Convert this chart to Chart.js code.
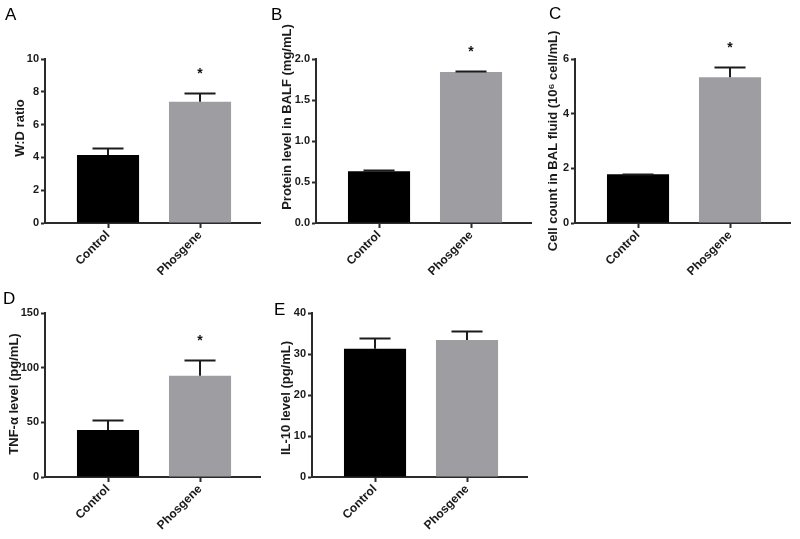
<!DOCTYPE html>
<html>
<head>
<meta charset="utf-8">
<script src="https://cdn.jsdelivr.net/npm/chart.js@4.4.1/dist/chart.umd.min.js"></script>
<style>
  body { margin: 0; background: #fff; width: 800px; height: 539px; position: relative; overflow: hidden; }
  canvas { position: absolute; }
</style>
</head>
<body>
<canvas id="chart-a"></canvas>
<canvas id="chart-b"></canvas>
<canvas id="chart-c"></canvas>
<canvas id="chart-d"></canvas>
<canvas id="chart-e"></canvas>
<script>
const groups = ['Control', 'Phosgene'];
const barColors = ['#000000', '#9e9ea2'];

const wdRatio = [4.15, 7.4];
const wdErr = [0.4, 0.55];
const wdTicks = ['0', '2', '4', '6', '8', '10'];

const protein = [0.63, 1.84];
const proteinErr = [0.012, 0.013];
const proteinTicks = ['0.0', '0.5', '1.0', '1.5', '2.0'];

const cellCount = [1.78, 5.33];
const cellErr = [0.01, 0.37];
const cellTicks = ['0', '2', '4', '6'];

const tnf = [43, 92.6];
const tnfErr = [9.2, 14.4];
const tnfTicks = ['0', '50', '100', '150'];

const il10 = [31.3, 33.4];
const il10Err = [2.5, 2.1];
const il10Ticks = ['0', '10', '20', '30', '40'];

const starred = ['', '*'];
const notStarred = ['', ''];

const FONT = "'Liberation Sans', Arial, sans-serif";
const AXIS = '#2b2b2b';

// error bars, asterisks, y-axis title and panel letter
const panelDecor = {
  id: 'panelDecor',
  afterDatasetsDraw(chart, args, opts) {
    const ctx = chart.ctx;
    const y = chart.scales.y;
    const ds = chart.data.datasets[0];
    const meta = chart.getDatasetMeta(0);
    ctx.save();
    ctx.strokeStyle = '#1c1c1c';
    ctx.lineWidth = 2;
    meta.data.forEach((bar, i) => {
      const top = Math.round(y.getPixelForValue(ds.data[i].y + ds.errors[i])) + 0.5;
      const half = bar.width / 4;
      ctx.beginPath();
      ctx.moveTo(bar.x, bar.y);
      ctx.lineTo(bar.x, top);
      ctx.moveTo(bar.x - half, top);
      ctx.lineTo(bar.x + half, top);
      ctx.stroke();
      if (ds.marks[i]) {
        ctx.fillStyle = '#111';
        ctx.font = 'bold 14px ' + FONT;
        ctx.textAlign = 'center';
        ctx.textBaseline = 'alphabetic';
        ctx.fillText(ds.marks[i], bar.x, top - 16);
      }
    });
    ctx.fillStyle = '#1a1a1a';
    ctx.font = 'bold 13px ' + FONT;
    ctx.textAlign = 'center';
    ctx.textBaseline = 'middle';
    ctx.translate(opts.titleX, opts.titleY);
    ctx.rotate(-Math.PI / 2);
    ctx.fillText(opts.title, 0, 0);
    ctx.setTransform(1, 0, 0, 1, 0, 0);
    ctx.font = '17px ' + FONT;
    ctx.textAlign = 'left';
    ctx.textBaseline = 'alphabetic';
    ctx.fillStyle = '#000';
    ctx.fillText(opts.letter, opts.letterX, opts.letterY);
    ctx.restore();
  }
};

function makePanel(id, box, area, letter, title, values, errors, marks, tickLabels) {
  const canvas = document.getElementById(id);
  canvas.width = box.w;
  canvas.height = box.h;
  canvas.style.left = box.x + 'px';
  canvas.style.top = box.y + 'px';
  const yMax = parseFloat(tickLabels[tickLabels.length - 1]);
  return new Chart(canvas, {
    type: 'bar',
    data: {
      datasets: [{
        data: values.map((v, i) => ({ x: i + 1, y: v })),
        errors: errors,
        marks: marks,
        backgroundColor: barColors,
        borderWidth: 0,
        categoryPercentage: 1,
        barPercentage: 0.675
      }]
    },
    options: {
      responsive: false,
      animation: false,
      devicePixelRatio: 1,
      layout: {
        padding: { left: 0, top: area.top - box.y, right: box.x + box.w - area.right, bottom: 0 }
      },
      scales: {
        x: {
          type: 'linear',
          offset: false,
          min: 0.315,
          max: 2.652,
          afterBuildTicks: s => { s.ticks = groups.map((g, i) => ({ value: i + 1 })); },
          afterFit: s => { s.height = box.y + box.h - area.bottom; },
          grid: { offset: false, drawOnChartArea: false, drawTicks: true, tickLength: 5, tickColor: AXIS, tickWidth: 2 },
          border: { display: true, color: AXIS, width: 2 },
          ticks: {
            minRotation: 45,
            maxRotation: 45,
            padding: 0,
            color: '#1a1a1a',
            font: { family: FONT, size: 12, weight: 'bold' },
            callback: v => groups[v - 1]
          }
        },
        y: {
          min: 0,
          max: yMax,
          afterBuildTicks: s => { s.ticks = tickLabels.map(t => ({ value: parseFloat(t) })); },
          afterFit: s => { s.width = area.left - box.x; },
          grid: { drawOnChartArea: false, drawTicks: true, tickLength: 4, tickColor: AXIS, tickWidth: 2 },
          border: { display: true, color: AXIS, width: 2 },
          ticks: {
            padding: 2,
            color: '#1a1a1a',
            font: { family: FONT, size: 11, weight: 'bold' },
            callback: (v, i) => tickLabels[i]
          }
        }
      },
      plugins: {
        legend: { display: false },
        tooltip: { enabled: false },
        panelDecor: {
          letter: letter,
          letterX: area.letterX - box.x,
          letterY: area.letterY - box.y,
          title: title,
          titleX: area.titleX - box.x,
          titleY: area.titleY - box.y
        }
      }
    },
    plugins: [panelDecor]
  });
}

makePanel('chart-a', { x: 0, y: 0, w: 265, h: 275 },
  { left: 45, top: 59, bottom: 223, right: 260, titleX: 20, titleY: 128, letterX: 5, letterY: 20 },
  'A', 'W:D ratio', wdRatio, wdErr, starred, wdTicks);

makePanel('chart-b', { x: 265, y: 0, w: 268, h: 275 },
  { left: 316, top: 59, bottom: 223, right: 531, titleX: 287, titleY: 117, letterX: 271, letterY: 20 },
  'B', 'Protein level in BALF (mg/mL)', protein, proteinErr, starred, proteinTicks);

makePanel('chart-c', { x: 533, y: 0, w: 267, h: 275 },
  { left: 575, top: 59, bottom: 223, right: 790, titleX: 553, titleY: 141, letterX: 549, letterY: 19 },
  'C', 'Cell count in BAL fluid (10\u2076 cell/mL)', cellCount, cellErr, starred, cellTicks);

makePanel('chart-d', { x: 0, y: 275, w: 265, h: 264 },
  { left: 45, top: 313, bottom: 477, right: 260, titleX: 14, titleY: 394, letterX: 3, letterY: 304 },
  'D', 'TNF-\u03b1 level (pg/mL)', tnf, tnfErr, starred, tnfTicks);

makePanel('chart-e', { x: 265, y: 275, w: 268, h: 264 },
  { left: 312, top: 313, bottom: 477, right: 527, titleX: 286, titleY: 398, letterX: 274, letterY: 315 },
  'E', 'IL-10 level (pg/mL)', il10, il10Err, notStarred, il10Ticks);
</script>
</body>
</html>
